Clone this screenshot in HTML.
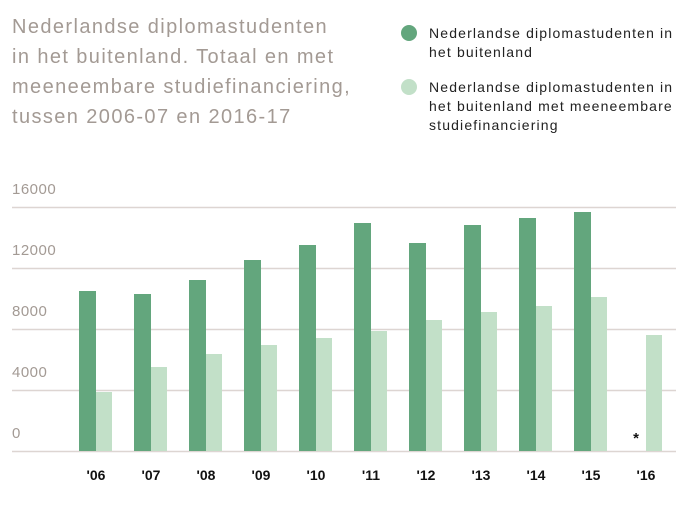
<!DOCTYPE html>
<html><head><style>
body{margin:0;width:697px;height:505px;background:#fff;font-family:"Liberation Sans",sans-serif;overflow:hidden}
</style></head><body>
<svg width="697" height="505" xmlns="http://www.w3.org/2000/svg" font-family="Liberation Sans, sans-serif">
<g fill="#a39a94" font-size="20" letter-spacing="1.4">
<text x="12" y="33">Nederlandse diplomastudenten</text>
<text x="12" y="63">in het buitenland. Totaal en met</text>
<text x="12" y="93">meeneembare studiefinanciering,</text>
<text x="12" y="123">tussen 2006-07 en 2016-17</text>
</g>
<circle cx="409" cy="33" r="8" fill="#63a67d"/>
<circle cx="409" cy="87" r="8" fill="#c2e0c8"/>
<g fill="#222" font-size="14" letter-spacing="1.15">
<text x="429" y="38">Nederlandse diplomastudenten in</text>
<text x="429" y="57">het buitenland</text>
<text x="429" y="92">Nederlandse diplomastudenten in</text>
<text x="429" y="111">het buitenland met meeneembare</text>
<text x="429" y="130">studiefinanciering</text>
</g>
<g stroke="#ddd5d2" stroke-width="1.5">
<line x1="12" x2="676" y1="207.5" y2="207.5"/>
<line x1="12" x2="676" y1="268.5" y2="268.5"/>
<line x1="12" x2="676" y1="329.5" y2="329.5"/>
<line x1="12" x2="676" y1="390.5" y2="390.5"/>
<line x1="12" x2="676" y1="451.5" y2="451.5"/>
</g>
<g fill="#a39a94" font-size="15" letter-spacing="0.5">
<text x="12" y="194">16000</text>
<text x="12" y="255">12000</text>
<text x="12" y="316">8000</text>
<text x="12" y="377">4000</text>
<text x="12" y="438">0</text>
</g>
<g fill="#63a67d">
<rect x="79" y="291" width="17" height="160"/>
<rect x="134" y="294" width="17" height="157"/>
<rect x="189" y="280" width="17" height="171"/>
<rect x="244" y="260" width="17" height="191"/>
<rect x="299" y="245" width="17" height="206"/>
<rect x="354" y="223" width="17" height="228"/>
<rect x="409" y="243" width="17" height="208"/>
<rect x="464" y="225" width="17" height="226"/>
<rect x="519" y="218" width="17" height="233"/>
<rect x="574" y="212" width="17" height="239"/>
</g>
<g fill="#c2e0c8">
<rect x="96" y="392" width="16" height="59"/>
<rect x="151" y="367" width="16" height="84"/>
<rect x="206" y="354" width="16" height="97"/>
<rect x="261" y="345" width="16" height="106"/>
<rect x="316" y="338" width="16" height="113"/>
<rect x="371" y="331" width="16" height="120"/>
<rect x="426" y="320" width="16" height="131"/>
<rect x="481" y="312" width="16" height="139"/>
<rect x="536" y="306" width="16" height="145"/>
<rect x="591" y="297" width="16" height="154"/>
<rect x="646" y="335" width="16" height="116"/>
</g>
<text x="636" y="443" font-size="15" font-weight="bold" text-anchor="middle" fill="#111">*</text>
<g fill="#111" font-size="14" font-weight="bold" text-anchor="middle">
<text x="96" y="480">'06</text>
<text x="151" y="480">'07</text>
<text x="206" y="480">'08</text>
<text x="261" y="480">'09</text>
<text x="316" y="480">'10</text>
<text x="371" y="480">'11</text>
<text x="426" y="480">'12</text>
<text x="481" y="480">'13</text>
<text x="536" y="480">'14</text>
<text x="591" y="480">'15</text>
<text x="646" y="480">'16</text>
</g>
</svg>
</body></html>
